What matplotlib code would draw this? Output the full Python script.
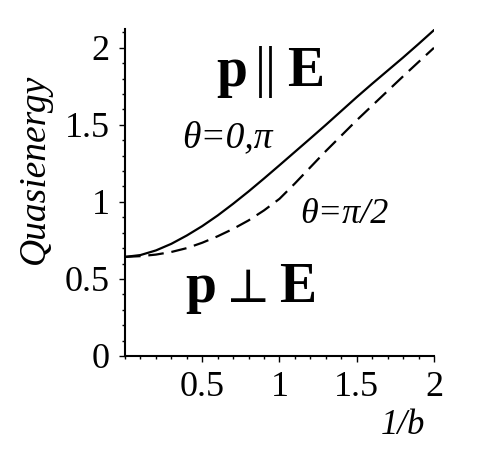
import matplotlib.pyplot as plt
from matplotlib.ticker import MultipleLocator

inv_b = [0.0, 0.1, 0.2, 0.3, 0.4, 0.5, 0.6, 0.7, 0.8, 0.9, 1.0,
         1.1, 1.2, 1.3, 1.4, 1.5, 1.6, 1.7, 1.8, 1.9, 2.0]
e_parallel = [0.643, 0.655, 0.685, 0.728, 0.782, 0.843, 0.912, 0.988, 1.068, 1.152, 1.238,
              1.325, 1.412, 1.50, 1.59, 1.68, 1.767, 1.852, 1.937, 2.025, 2.115]
e_perp = [0.643, 0.648, 0.658, 0.675, 0.70, 0.735, 0.777, 0.825, 0.88, 0.945, 1.02,
          1.12, 1.225, 1.33, 1.43, 1.53, 1.625, 1.72, 1.815, 1.908, 2.00]

x_ticks = [0.5, 1, 1.5, 2]
x_tick_labels = ['0.5', '1', '1.5', '2']
y_ticks = [0, 0.5, 1, 1.5, 2]
y_tick_labels = ['0', '0.5', '1', '1.5', '2']

serif = ['Liberation Serif', 'DejaVu Serif']
plt.rcParams['font.family'] = serif

fig = plt.figure(figsize=(4.79, 4.70), dpi=100)
ax = fig.add_axes([0.261, 0.2426, 0.645, 0.695])

ax.plot(inv_b, e_parallel, color='black', lw=1.6)
ax.plot(inv_b, e_perp, color='black', lw=1.6, dashes=(7, 3.5))

ax.set_xlim(0, 2.0)
ax.set_ylim(0, 2.12)
ax.spines['top'].set_visible(False)
ax.spines['right'].set_visible(False)
ax.spines['left'].set_linewidth(1.5)
ax.spines['bottom'].set_linewidth(1.5)

ax.set_xticks(x_ticks, x_tick_labels)
ax.set_yticks(y_ticks, y_tick_labels)
ax.xaxis.set_minor_locator(MultipleLocator(0.1))
ax.yaxis.set_minor_locator(MultipleLocator(0.1))
ax.tick_params(which='major', direction='out', length=4, width=1, labelsize=26, pad=7)
ax.tick_params(which='minor', direction='out', length=2.5, width=1)

fig.text(0.073, 0.64, 'Quasienergy', rotation=90, fontsize=27, style='italic',
         ha='center', va='center')
fig.text(0.842, 0.095, '1/b', fontsize=25, style='italic', ha='center', va='center')

# p || E
ax.text(0.69, 1.75, 'p', fontsize=40, fontweight='bold', ha='center', va='baseline')
ax.text(0.91, 1.75, '||', fontsize=40, ha='center', va='baseline')
ax.text(1.17, 1.75, 'E', fontsize=40, fontweight='bold', ha='center', va='baseline')
# p _|_ E
ax.text(0.49, 0.35, 'p', fontsize=40, fontweight='bold', ha='center', va='baseline')
ax.text(0.80, 0.35, '\u22a5', fontsize=34, ha='center', va='baseline', family=serif)
ax.text(1.12, 0.35, 'E', fontsize=40, fontweight='bold', ha='center', va='baseline')

ax.text(0.66, 1.415, '\u03b8=0,\u03c0', fontsize=27, style='italic', ha='center',
        va='center')
ax.text(1.42, 0.915, '\u03b8=\u03c0/2', fontsize=26, style='italic', ha='center',
        va='center')

fig.savefig('out.png', dpi=100)
